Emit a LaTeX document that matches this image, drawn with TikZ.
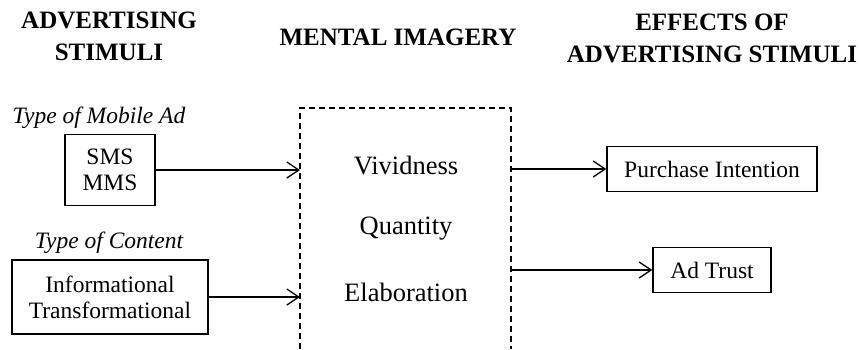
\documentclass[tikz,border=0pt]{standalone}
\usepackage{fontspec}
\setmainfont{Liberation Serif}
\usetikzlibrary{arrows.meta}
\begin{document}
\begin{tikzpicture}[x=1pt,y=-1pt,
  body/.style={font=\fontsize{23.5}{26}\selectfont},
  mid/.style={font=\fontsize{26.5}{30}\selectfont},
  head/.style={font=\fontsize{25}{32}\selectfont\bfseries, align=center, inner sep=0},
  lbl/.style={font=\fontsize{23.5}{26}\selectfont\itshape, inner sep=0},
  box/.style={draw, line width=1.4pt, body, align=center, inner sep=2pt},
  conn/.style={line width=1.3pt, -{Straight Barb[length=12pt,width=16pt,line width=1.3pt]}},
  dashbox/.style={line width=1.4pt, dash pattern=on 6pt off 4pt}]
\useasboundingbox (0,0) rectangle (861,349);
% headings
\node[head] (h1) at (109,36) {ADVERTISING\\STIMULI};
\node[head] (h2) at (398,37) {MENTAL IMAGERY};
\node[head] (h3) at (712,38) {EFFECTS OF\\ADVERTISING STIMULI};
% labels
\node[lbl] (l1) at (99,118) {Type of Mobile Ad};
\node[lbl] (l2) at (109,243) {Type of Content};
% left boxes
\node[box, minimum width=90pt, minimum height=71pt] (sms) at (110,170) {SMS\\MMS};
\node[box, minimum width=196pt, minimum height=74pt] (info) at (110,297) {Informational\\Transformational};
% dashed mental imagery box (open at bottom)
\coordinate (dbl) at (300,349);
\coordinate (dtl) at (300,108);
\coordinate (dtr) at (511,108);
\coordinate (dbr) at (511,349);
\draw[dashbox] (dbl) -- (dtl) -- (dtr) -- (dbr);
\node[mid] (viv) at (406,166) {Vividness};
\node[mid] (qua) at (406,229) {Quantity};
\node[mid] (ela) at (406,292) {Elaboration};
% right boxes
\node[box, minimum width=210pt, minimum height=45pt] (pi) at (712,169) {Purchase Intention};
\node[box, minimum width=118pt, minimum height=45pt] (at) at (712,270) {Ad Trust};
% connectors
\coordinate (in1) at (300,170);
\coordinate (in2) at (300,297);
\coordinate (out1) at (511,169);
\coordinate (out2) at (511,270);
\draw[conn] (sms.east) -- (in1);
\draw[conn] (info.east) -- (in2);
\draw[conn] (out1) -- (pi.west);
\draw[conn] (out2) -- (at.west);
\end{tikzpicture}
\end{document}
